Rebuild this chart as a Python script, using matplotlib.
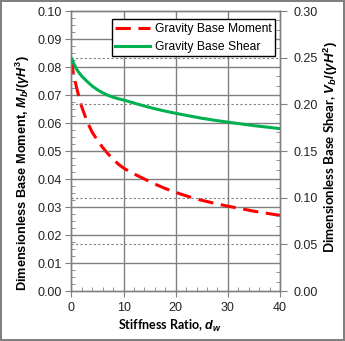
import matplotlib
matplotlib.use("Agg")
import matplotlib.pyplot as plt
from matplotlib.ticker import MultipleLocator, FormatStrFormatter

plt.rcParams['font.family'] = ['Liberation Sans', 'DejaVu Sans']
plt.rcParams['mathtext.fontset'] = 'custom'
plt.rcParams['mathtext.rm'] = 'Liberation Sans:bold'
plt.rcParams['mathtext.it'] = 'Liberation Sans:bold:italic'

# stiffness ratio d_w
stiffness = [0, 0.25, 0.5, 1, 1.5, 2, 3, 4, 5, 6, 7, 8, 9, 10, 11, 12, 13,
             14, 16, 18, 20, 22.5, 25, 27.5, 30, 35, 40]
# dimensionless base moment Mb/(gamma H^3)
moment = [0.0830, 0.0790, 0.0765, 0.0725, 0.0688, 0.0656, 0.0605, 0.0566,
          0.0538, 0.0512, 0.0490, 0.0470, 0.0453, 0.0439, 0.0428, 0.0418,
          0.0409, 0.0400, 0.0382, 0.0366, 0.0352, 0.0337, 0.0324, 0.0313,
          0.0303, 0.0285, 0.0270]
# dimensionless base shear Vb/(gamma H^2)
shear = [0.249, 0.246, 0.243, 0.2375, 0.2335, 0.2300, 0.2245, 0.2195,
         0.2155, 0.2124, 0.2097, 0.2076, 0.2060, 0.2046, 0.2030, 0.2014,
         0.1998, 0.1982, 0.1953, 0.1927, 0.1904, 0.1877, 0.1851, 0.1829,
         0.1809, 0.1772, 0.1740]

gray = '#808080'

fig = plt.figure(figsize=(3.45, 3.41), dpi=100)
fig.patch.set_edgecolor(gray)
fig.patch.set_linewidth(1.5)
ax = fig.add_axes([0.2072, 0.1466, 0.6044, 0.8211])
ax2 = ax.twinx()

# grid: solid on left-axis majors, dotted on right-axis majors
for v in [0.01, 0.02, 0.03, 0.04, 0.05, 0.06, 0.07, 0.08, 0.09]:
    ax.axhline(v, color=gray, lw=1.0, zorder=0)
for v in [10, 20, 30]:
    ax.axvline(v, color=gray, lw=1.0, zorder=0)
for v in [0.05, 0.10, 0.15, 0.20, 0.25]:
    ax2.axhline(v, color=gray, lw=0.8, ls=(0, (2, 2)), zorder=0)

l1, = ax.plot(stiffness, moment, color='#FF0000', lw=2.2, ls=(0, (5, 2.5)),
              label='Gravity Base Moment', zorder=3)
l2, = ax2.plot(stiffness, shear, color='#00B050', lw=2.2,
               label='Gravity Base Shear', zorder=3)

ax.set_xlim(0, 40)
ax.set_ylim(0, 0.10)
ax2.set_ylim(0, 0.30)

ax.xaxis.set_major_locator(MultipleLocator(10))
ax.xaxis.set_minor_locator(MultipleLocator(2))
ax.yaxis.set_major_locator(MultipleLocator(0.01))
ax.yaxis.set_minor_locator(MultipleLocator(0.0025))
ax.yaxis.set_major_formatter(FormatStrFormatter('%.2f'))
ax2.yaxis.set_major_locator(MultipleLocator(0.05))
ax2.yaxis.set_minor_locator(MultipleLocator(0.01))
ax2.yaxis.set_major_formatter(FormatStrFormatter('%.2f'))

ax.tick_params(axis='both', which='major', direction='out', length=4,
               color=gray, labelsize=9, labelcolor='#222222', pad=3)
ax.tick_params(axis='both', which='minor', direction='in', length=3,
               color=gray)
ax.tick_params(axis='x', which='major', pad=4)
ax2.tick_params(axis='y', which='major', direction='out', length=5,
                color=gray, labelsize=9, labelcolor='#222222', pad=5)
ax2.tick_params(axis='y', which='minor', direction='in', length=3, color=gray)

for a in (ax, ax2):
    for s in a.spines.values():
        s.set_color(gray)
        s.set_linewidth(1.0)

ax.set_xlabel(r'Stiffness Ratio, $d_w$', fontsize=9, fontweight='bold',
              family=['Lato', 'DejaVu Sans'])
ax.xaxis.set_label_coords(0.47, -0.095)
ax.set_ylabel(r'Dimensionless Base Moment, $M_b/(\gamma H^3)$',
              fontsize=9.2, fontweight='bold')
ax.yaxis.set_label_coords(-0.19, 0.42)
ax2.set_ylabel(r'Dimensionless Base Shear, $V_b/(\gamma H^2)$',
               fontsize=9.5, fontweight='bold', rotation=90,
               family=['Lato', 'DejaVu Sans'])
ax2.yaxis.set_label_coords(1.20, 0.515)

leg = ax2.legend(handles=[l1, l2], loc='upper right',
                 bbox_to_anchor=(0.976, 0.971), fontsize=8.7, frameon=True,
                 fancybox=False, edgecolor='black', framealpha=1,
                 handlelength=2.9, handletextpad=0.35, borderpad=0.3,
                 labelspacing=0.5, borderaxespad=0)
leg.get_frame().set_linewidth(1.0)
leg.set_zorder(5)

fig.savefig('out.png', dpi=100)
